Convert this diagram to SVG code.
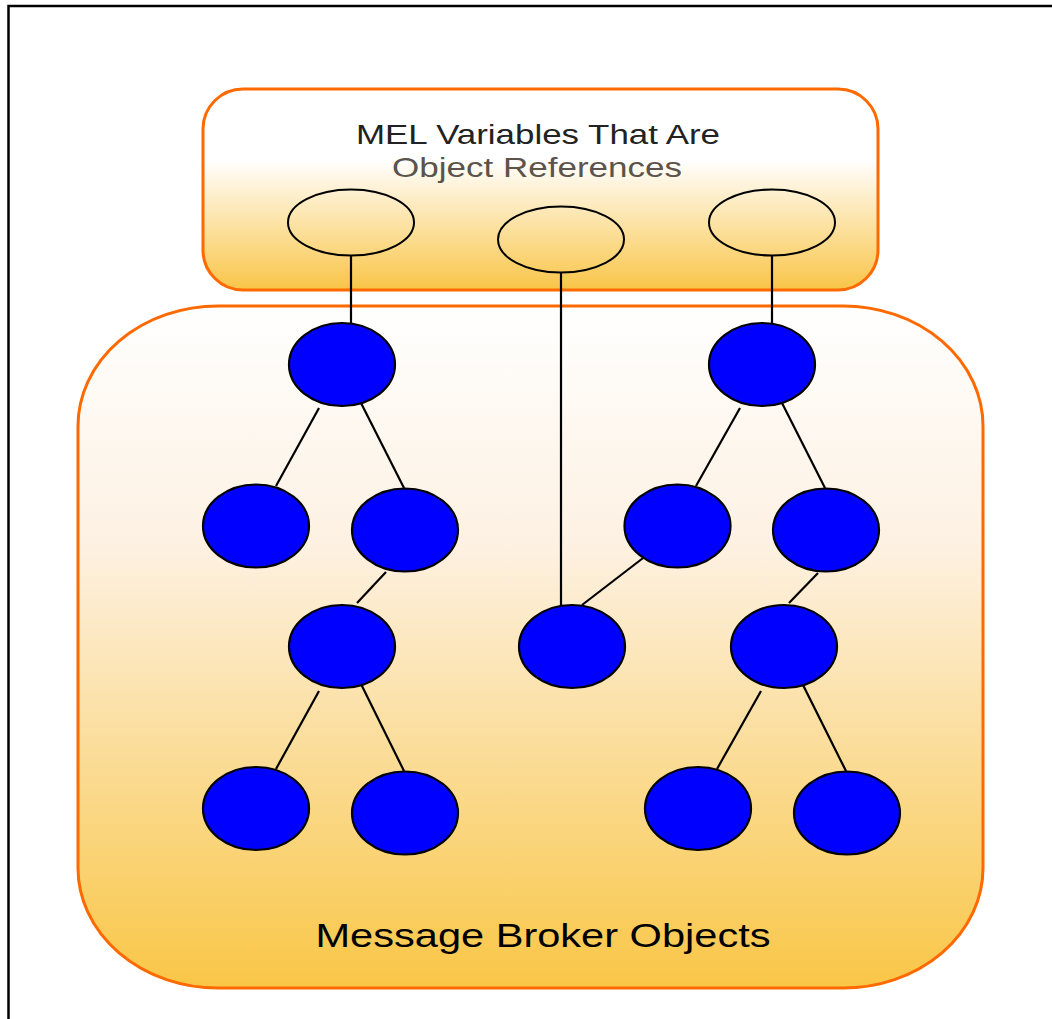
<svg xmlns="http://www.w3.org/2000/svg" width="1052" height="1019" viewBox="0 0 1052 1019">
<style>
.box{stroke:#FF6A00;stroke-width:3}
.ref{fill:none;stroke:#000;stroke-width:2}
.obj{fill:#0000FF;stroke:#000;stroke-width:2.2}
.edge{stroke:#000;stroke-width:2.2;fill:none}
text{font-family:"Liberation Sans",Arial,sans-serif}
</style>
<defs>
<linearGradient id="gTop" x1="0" y1="0" x2="0" y2="1">
<stop offset="0" stop-color="#FFFFFF"/>
<stop offset="0.35" stop-color="#FFFFFF"/>
<stop offset="1" stop-color="#F9C548"/>
</linearGradient>
<linearGradient id="gBig" x1="0" y1="0" x2="0" y2="1">
<stop offset="0" stop-color="#FFFFFF"/>
<stop offset="0.35" stop-color="#FDF1E2"/>
<stop offset="1" stop-color="#F9C646"/>
</linearGradient>
</defs>
<rect width="1052" height="1019" fill="#FFFFFF"/>
<rect x="8.5" y="6" width="1070" height="1040" fill="none" stroke="#000" stroke-width="2.5"/>
<g id="broker">
<rect class="box" x="78" y="306" width="905" height="682" rx="140" ry="120" fill="url(#gBig)"/>
<text x="543" y="947" font-size="33" text-anchor="middle" fill="#000" textLength="455" lengthAdjust="spacingAndGlyphs">Message Broker Objects</text>
</g>
<g id="mel">
<rect class="box" x="203" y="89" width="675" height="201" rx="40" ry="40" fill="url(#gTop)"/>
<text x="538" y="144" font-size="27.5" text-anchor="middle" fill="#222222" textLength="364" lengthAdjust="spacingAndGlyphs">MEL Variables That Are</text>
<text x="537" y="177" font-size="27.5" text-anchor="middle" fill="#5C534C" textLength="290" lengthAdjust="spacingAndGlyphs">Object References</text>
</g>
<g id="connectors">
<line class="edge" x1="351" y1="256" x2="351" y2="323"/>
<line class="edge" x1="561" y1="272" x2="561" y2="606"/>
<line class="edge" x1="772" y1="256" x2="772" y2="323"/>
<line class="edge" x1="319" y1="408" x2="276" y2="486"/>
<line class="edge" x1="361" y1="403" x2="404" y2="488"/>
<line class="edge" x1="386" y1="572" x2="357" y2="603"/>
<line class="edge" x1="319" y1="691" x2="276" y2="769"/>
<line class="edge" x1="361" y1="684" x2="404" y2="771"/>
<line class="edge" x1="740" y1="408" x2="696" y2="486"/>
<line class="edge" x1="782" y1="403" x2="825" y2="488"/>
<line class="edge" x1="647" y1="555" x2="582" y2="605"/>
<line class="edge" x1="818" y1="573" x2="789" y2="603"/>
<line class="edge" x1="761" y1="691" x2="717" y2="769"/>
<line class="edge" x1="803" y1="685" x2="846" y2="771"/>
</g>
<g id="ref1"><ellipse class="ref" cx="351" cy="222.5" rx="63" ry="33"/></g>
<g id="ref2"><ellipse class="ref" cx="561" cy="239.5" rx="63" ry="33"/></g>
<g id="ref3"><ellipse class="ref" cx="772" cy="222.5" rx="63" ry="33"/></g>
<g id="objA"><ellipse class="obj" cx="342" cy="364.5" rx="53" ry="41.5"/></g>
<g id="objB"><ellipse class="obj" cx="256" cy="526" rx="53" ry="41.5"/></g>
<g id="objC"><ellipse class="obj" cx="405" cy="530" rx="53" ry="41.5"/></g>
<g id="objD"><ellipse class="obj" cx="342" cy="646.5" rx="53" ry="41.5"/></g>
<g id="objE"><ellipse class="obj" cx="256" cy="808.5" rx="53" ry="41.5"/></g>
<g id="objF"><ellipse class="obj" cx="405" cy="813" rx="53" ry="41.5"/></g>
<g id="objG"><ellipse class="obj" cx="572" cy="646.5" rx="53" ry="41.5"/></g>
<g id="objH"><ellipse class="obj" cx="762" cy="364.5" rx="53" ry="41.5"/></g>
<g id="objI"><ellipse class="obj" cx="677.5" cy="526" rx="53" ry="41.5"/></g>
<g id="objJ"><ellipse class="obj" cx="826" cy="530" rx="53" ry="41.5"/></g>
<g id="objK"><ellipse class="obj" cx="784" cy="646.5" rx="53" ry="41.5"/></g>
<g id="objL"><ellipse class="obj" cx="698" cy="808.5" rx="53" ry="41.5"/></g>
<g id="objM"><ellipse class="obj" cx="847" cy="813" rx="53" ry="41.5"/></g>
</svg>
